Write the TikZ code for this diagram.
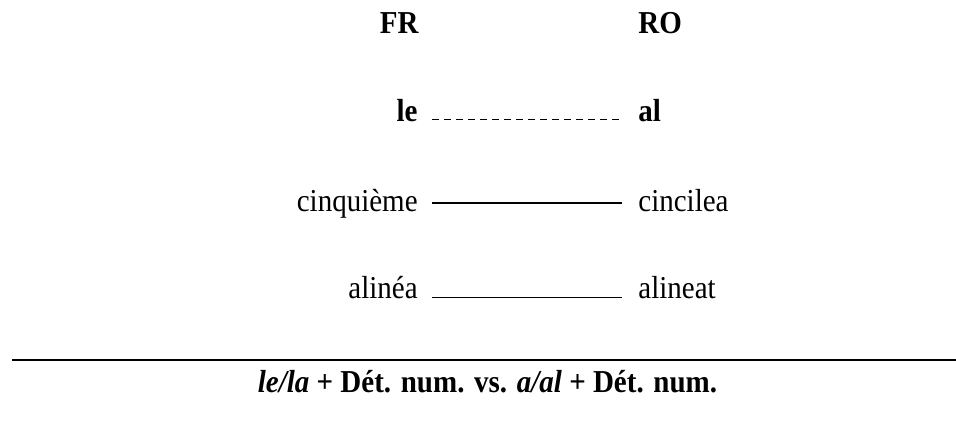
\documentclass[tikz,border=0pt]{standalone}
\usepackage{fontspec}
\setmainfont{Liberation Serif}
\usepackage{tikz}
\usetikzlibrary{positioning}

\begin{document}
\begin{tikzpicture}[
  x=0.5pt, y=-0.5pt,
  word/.style={inner sep=0pt, yscale=1.1, transform shape, font=\fontsize{14.5}{17}\selectfont},
  head/.style={word, font=\fontsize{14.5}{17}\selectfont\bfseries},
  link/.style={line width=0.6pt},
  dlink/.style={line width=0.5pt, dash pattern=on 3.5pt off 2.5pt}
]
\useasboundingbox (0,0) rectangle (956,448);

% column heads
\node[head, anchor=base east] (fr) at (419,34) {FR};
\node[head, anchor=base west] (ro) at (638,34) {RO};

% pairs
\node[head, anchor=base east] (le) at (418,122) {le};
\node[head, anchor=base west] (al) at (638,122) {al};
\node[word, anchor=base east] (cinq) at (418,212) {cinquième};
\node[word, anchor=base west] (cinc) at (638,212) {cincilea};
\node[word, anchor=base east] (alin) at (418,299) {alinéa};
\node[word, anchor=base west] (alineat) at (638,299) {alineat};

\draw[dlink] ([xshift=7pt,yshift=1pt]le.base east) -- ([xshift=-9.5pt,yshift=1pt]al.base west);
\draw[link] ([xshift=7pt,yshift=4.5pt]cinq.base east) -- ([xshift=-8pt,yshift=4.5pt]cinc.base west);
\draw[link] ([xshift=7pt,yshift=0.6pt]alin.base east) -- ([xshift=-8pt,yshift=0.6pt]alineat.base west);

% rule and caption
\coordinate (rule_l) at (12,360);
\coordinate (rule_r) at (956,360);
\draw[line width=1pt] (rule_l) -- (rule_r);
\node[head, anchor=base] (caption) at (487.5,392)
  {\textit{le/la} + Dét. num. vs. \textit{a/al} + Dét. num.};

\end{tikzpicture}
\end{document}
